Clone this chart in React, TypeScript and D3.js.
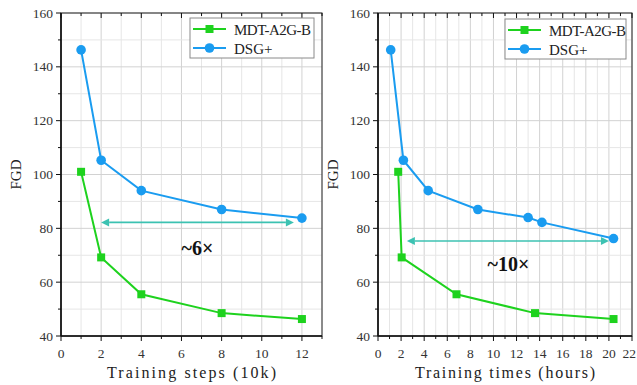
import React from 'react';
import * as d3 from 'd3';

// left chart: steps (10k)
const stepsX = [1, 2, 4, 8, 12];
const stepsMdt = [101, 69.2, 55.5, 48.5, 46.3];
const stepsDsg = [146.3, 105.3, 94, 87, 83.8];

// right chart: hours
const hoursMdtX = [1.75, 2.05, 6.8, 13.6, 20.4];
const hoursMdt = [101, 69.2, 55.5, 48.5, 46.3];
const hoursDsgX = [1.1, 2.2, 4.35, 8.65, 13, 14.2, 20.4];
const hoursDsg = [146.3, 105.3, 94, 87, 84, 82.2, 76.2];

const yTicks = [40, 60, 80, 100, 120, 140, 160];
const seriesNames = ['MDT-A2G-B', 'DSG+'];
const legendWidths = [77, 0];

const GREEN = '#1ed21e';
const BLUE = '#1a9cf0';
const TEAL = '#3cc2b2';
const serifFont = '"Liberation Serif", serif';

type Pt = [number, number];

function Panel(props: {
  left: number; right: number; top: number; bottom: number;
  xMax: number; xTicks: number[]; xLabel: string; xLabelWidth: number;
  mdt: Pt[]; dsg: Pt[];
  arrow: { x0: number; x1: number; y: number };
  note: { x: number; y: number; text: string };
  legend: { x: number; y: number; w: number };
}) {
  const { left, right, top, bottom, xMax, xTicks, xLabel, xLabelWidth, mdt, dsg, arrow, note, legend } = props;
  const x = d3.scaleLinear().domain([0, xMax]).range([left, right]);
  const y = d3.scaleLinear().domain([40, 160]).range([bottom, top]);
  const line = d3.line<Pt>().x(d => x(d[0])).y(d => y(d[1]));

  const xMinor = d3.range(0, xMax + 0.001, 1);
  const yMinor = d3.range(40, 160.001, 10);

  const ax = x(arrow.x0), bx = x(arrow.x1), ay = y(arrow.y);
  const head = 8;

  return (
    <g>
      {/* grid */}
      {xMinor.map(v => (
        <line key={'gx' + v} x1={x(v)} x2={x(v)} y1={top} y2={bottom}
          stroke={v % 2 === 0 ? '#d2d2d2' : '#e6e6e6'} strokeWidth={1} />
      ))}
      {yMinor.map(v => (
        <line key={'gy' + v} x1={left} x2={right} y1={y(v)} y2={y(v)}
          stroke={v % 20 === 0 ? '#d2d2d2' : '#e6e6e6'} strokeWidth={1} />
      ))}

      {/* frame */}
      <rect x={left} y={top} width={right - left} height={bottom - top}
        fill="none" stroke="#222" strokeWidth={1} />
      <line x1={left} x2={left} y1={top} y2={bottom} stroke="#111" strokeWidth={1.6} />
      <line x1={left} x2={right} y1={bottom} y2={bottom} stroke="#111" strokeWidth={1.6} />

      {/* ticks */}
      {xMinor.map(v => {
        const major = xTicks.includes(v);
        return (
          <g key={'tx' + v}>
            <line x1={x(v)} x2={x(v)} y1={bottom} y2={bottom + (major ? 5 : 3)} stroke="#111" />
            <line x1={x(v)} x2={x(v)} y1={top} y2={top + (major ? 5 : 3)} stroke="#111" />
          </g>
        );
      })}
      {yMinor.map(v => (
        <line key={'ty' + v} x1={left - (v % 20 === 0 ? 5 : 3)} x2={left} y1={y(v)} y2={y(v)} stroke="#111" />
      ))}
      {xTicks.map(v => {
        const edge = x(v) + 8 > 637;
        return (
          <text key={'lx' + v} x={edge ? 636 : x(v)} y={bottom + 22} textAnchor={edge ? 'end' : 'middle'}
            fontFamily={serifFont} fontSize={13.5} fill="#333">{v}</text>
        );
      })}
      {yTicks.map(v => (
        <text key={'ly' + v} x={left - 8} y={y(v) + 4.5} textAnchor="end"
          fontFamily={serifFont} fontSize={13.5} fill="#333">{v}</text>
      ))}

      {/* axis titles */}
      <text x={(left + right) / 2 - xLabelWidth / 2} y={378} textLength={xLabelWidth} lengthAdjust="spacing"
        fontFamily={serifFont} fontSize={16} fill="#222">{xLabel}</text>
      <text transform={`translate(${left - 40},${y(100)}) rotate(-90)`} textAnchor="middle"
        fontFamily={serifFont} fontSize={15} fill="#222">FGD</text>

      {/* series */}
      <path d={line(mdt) || ''} fill="none" stroke={GREEN} strokeWidth={2} />
      {mdt.map((d, i) => (
        <rect key={'m' + i} x={x(d[0]) - 4} y={y(d[1]) - 4} width={8} height={8} fill={GREEN} />
      ))}
      <path d={line(dsg) || ''} fill="none" stroke={BLUE} strokeWidth={2} />
      {dsg.map((d, i) => (
        <circle key={'d' + i} cx={x(d[0])} cy={y(d[1])} r={4.8} fill={BLUE} />
      ))}

      {/* speedup arrow */}
      <line x1={ax + head} x2={bx - head} y1={ay} y2={ay} stroke={TEAL} strokeWidth={1.6} />
      <path d={`M${ax},${ay} L${ax + head},${ay - 4} L${ax + head},${ay + 4} Z`} fill={TEAL} />
      <path d={`M${bx},${ay} L${bx - head},${ay - 4} L${bx - head},${ay + 4} Z`} fill={TEAL} />
      <text x={x(note.x)} y={y(note.y)} textAnchor="middle" fontFamily={serifFont}
        fontWeight="bold" fontSize={20} fill="#111">{note.text}</text>

      {/* legend */}
      <rect x={legend.x} y={legend.y} width={legend.w} height={40} fill="#fff" stroke="#8a8a8a" strokeWidth={1} />
      {seriesNames.map((name, i) => {
        const ly = legend.y + 11 + i * 19;
        const c = i === 0 ? GREEN : BLUE;
        const tl = legendWidths[i];
        return (
          <g key={name}>
            <line x1={legend.x + 3} x2={legend.x + 36} y1={ly} y2={ly} stroke={c} strokeWidth={2} />
            {i === 0
              ? <rect x={legend.x + 15.5} y={ly - 4} width={8} height={8} fill={c} />
              : <circle cx={legend.x + 19.5} cy={ly} r={4.8} fill={c} />}
            <text x={legend.x + 44} y={ly + 5.5}
              {...(tl ? { textLength: tl, lengthAdjust: 'spacing' } : {})}
              fontFamily={serifFont} fontSize={15} fill="#222">{name}</text>
          </g>
        );
      })}
    </g>
  );
}

export default function App() {
  const zip = (xs: number[], ys: number[]): Pt[] => xs.map((v, i) => [v, ys[i]]);
  return (
    <svg width={637} height={385} style={{ position: 'absolute', left: 0, top: 0, background: '#fff' }}>
      <Panel left={61} right={322} top={13} bottom={336} xMax={13}
        xTicks={[0, 2, 4, 6, 8, 10, 12]} xLabel="Training steps (10k)" xLabelWidth={169}
        mdt={zip(stepsX, stepsMdt)} dsg={zip(stepsX, stepsDsg)}
        arrow={{ x0: 2, x1: 11.6, y: 82.2 }}
        note={{ x: 6.8, y: 70, text: '~6×' }}
        legend={{ x: 190, y: 18, w: 124 }} />
      <Panel left={378} right={632} top={13} bottom={336} xMax={22}
        xTicks={[0, 2, 4, 6, 8, 10, 12, 14, 16, 18, 20, 22]} xLabel="Training times (hours)" xLabelWidth={180}
        mdt={zip(hoursMdtX, hoursMdt)} dsg={zip(hoursDsgX, hoursDsg)}
        arrow={{ x0: 2.5, x1: 20, y: 75.3 }}
        note={{ x: 11.3, y: 64, text: '~10×' }}
        legend={{ x: 505, y: 19, w: 121 }} />
    </svg>
  );
}
